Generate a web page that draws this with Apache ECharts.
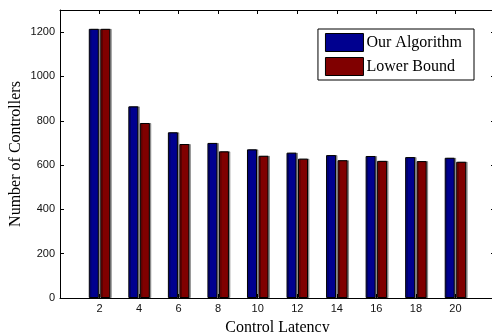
<!DOCTYPE html>
<html>
<head>
<meta charset="utf-8">
<script src="https://cdn.jsdelivr.net/npm/echarts@6/dist/echarts.min.js"></script>
<style>html,body{margin:0;padding:0;background:#fff;}#c{width:492px;height:332px;}</style>
</head>
<body>
<div id="c"></div>
<script>
const latencies = [2, 4, 6, 8, 10, 12, 14, 16, 18, 20];
const ourAlgorithm = [1215, 865, 748, 700, 671, 656, 645, 641, 636, 633];
const lowerBound = [1215, 790, 695, 662, 642, 629, 622, 619, 618, 615];
const yTicks = [0, 200, 400, 600, 800, 1000, 1200];
const seriesNames = ['Our Algorithm', 'Lower Bound'];

const chart = echarts.init(document.getElementById('c'));
const serif = 'Liberation Serif, Times New Roman, serif';
const sans = 'Liberation Sans, Arial, sans-serif';
const barStyle = (color) => ({
  color: color, borderColor: '#000', borderWidth: 1,
  shadowColor: 'rgba(0,0,0,0.35)', shadowOffsetX: 1.5, shadowOffsetY: 0, shadowBlur: 0
});
const tickStyle = { show: true, inside: true, length: 4, lineStyle: { color: '#000', width: 1 } };
chart.setOption({
  animation: false,
  grid: { left: 60, top: 10, right: -3, bottom: 34, containLabel: false, outerBoundsMode: 'none' },
  legend: {
    right: 18, top: 29,
    orient: 'vertical',
    icon: 'rect',
    itemWidth: 38, itemHeight: 18, itemGap: 5,
    padding: [4, 12, 4, 7],
    borderColor: '#000', borderWidth: 1,
    backgroundColor: '#fff',
    textStyle: { fontFamily: serif, fontSize: 16, color: '#000', padding: [0, 0, 0, -2] },
    data: seriesNames.map(n => ({ name: n, itemStyle: { borderColor: '#000', borderWidth: 1, shadowColor: 'rgba(0,0,0,0)' } }))
  },
  xAxis: [{
    type: 'value', min: 0, max: 22, interval: 2, position: 'bottom',
    name: 'Control Latency', nameLocation: 'middle', nameGap: 22, nameMoveOverlap: false,
    nameTextStyle: { fontFamily: serif, fontSize: 16, color: '#000' },
    axisLine: { show: true, onZero: false, lineStyle: { color: '#000', width: 1 } },
    axisTick: tickStyle,
    axisLabel: { fontFamily: sans, fontSize: 11, color: '#111', margin: 5,
      formatter: v => latencies.includes(v) ? String(v) : '' },
    splitLine: { show: false }
  }, {
    type: 'value', min: 0, max: 22, interval: 2, position: 'top',
    axisLine: { show: true, onZero: false, lineStyle: { color: '#000', width: 1 } },
    axisTick: tickStyle,
    axisLabel: { show: false }, splitLine: { show: false }
  }],
  yAxis: [{
    type: 'value', min: 0, max: 1300, interval: 100, position: 'left',
    name: 'Number of Controllers', nameLocation: 'middle', nameGap: 36, nameMoveOverlap: false,
    nameTextStyle: { fontFamily: serif, fontSize: 16, color: '#000' },
    axisLine: { show: true, onZero: false, lineStyle: { color: '#000', width: 1 } },
    axisTick: { show: true, inside: true, length: 4, lineStyle: { color: '#000', width: 1 },
      customValues: yTicks },
    axisLabel: { fontFamily: sans, fontSize: 11, color: '#111', margin: 5,
      customValues: yTicks, formatter: v => String(v) },
    splitLine: { show: false }
  }, {
    type: 'value', min: 0, max: 1300, interval: 100, position: 'right',
    axisLine: { show: true, onZero: false, lineStyle: { color: '#000', width: 1 } },
    axisTick: { show: true, inside: true, length: 4, lineStyle: { color: '#000', width: 1 },
      customValues: yTicks },
    axisLabel: { show: false }, splitLine: { show: false }
  }],
  series: [{
    name: seriesNames[0], type: 'bar', barWidth: 10, barGap: '15%',
    itemStyle: barStyle('#00008f'),
    data: latencies.map((x, i) => [x, ourAlgorithm[i]])
  }, {
    name: seriesNames[1], type: 'bar', barWidth: 10, barGap: '15%',
    itemStyle: barStyle('#800000'),
    data: latencies.map((x, i) => [x, lowerBound[i]])
  }]
});
</script>
</body>
</html>
